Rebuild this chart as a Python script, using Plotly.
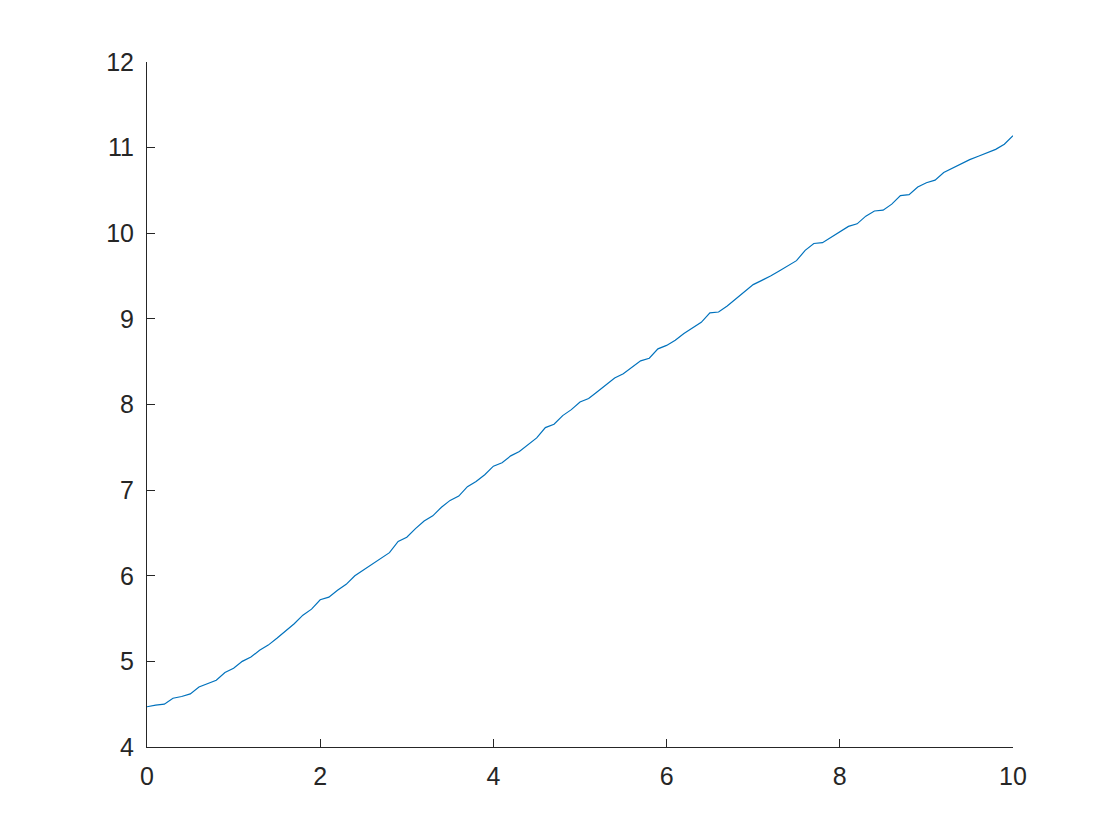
import plotly.graph_objects as go

# samples of the curve at steps of 0.1
x_vals = [i / 10 for i in range(101)]
y_vals = [
    4.47, 4.49, 4.50, 4.57, 4.59, 4.62, 4.70, 4.74, 4.78, 4.87,
    4.92, 5.00, 5.05, 5.13, 5.19, 5.27, 5.35, 5.44, 5.54, 5.61,
    5.72, 5.75, 5.83, 5.90, 6.00, 6.07, 6.14, 6.21, 6.27, 6.40,
    6.45, 6.55, 6.64, 6.70, 6.80, 6.88, 6.93, 7.04, 7.10, 7.18,
    7.28, 7.32, 7.40, 7.45, 7.53, 7.61, 7.73, 7.77, 7.87, 7.94,
    8.03, 8.07, 8.15, 8.23, 8.31, 8.36, 8.44, 8.51, 8.54, 8.65,
    8.69, 8.75, 8.83, 8.90, 8.96, 9.07, 9.08, 9.15, 9.23, 9.31,
    9.40, 9.45, 9.50, 9.56, 9.62, 9.68, 9.80, 9.88, 9.89, 9.95,
    10.01, 10.08, 10.11, 10.20, 10.26, 10.27, 10.34, 10.44, 10.45, 10.54,
    10.59, 10.62, 10.71, 10.76, 10.81, 10.86, 10.90, 10.94, 10.98, 11.04,
    11.14,
]
x_ticks = [0, 2, 4, 6, 8, 10]
y_ticks = [4, 5, 6, 7, 8, 9, 10, 11, 12]

fig = go.Figure(go.Scatter(x=x_vals, y=y_vals, mode="lines",
                           line=dict(color="#0072BD", width=1.2)))

axis_style = dict(showgrid=False, zeroline=False, showline=True,
                  linecolor="#262626", linewidth=1,
                  ticks="inside", ticklen=8, tickcolor="#262626",
                  tickfont=dict(family="Liberation Sans, Arial", size=25, color="#262626"))

fig.update_xaxes(range=[0, 10], tickvals=x_ticks, ticklabelstandoff=7, **axis_style)
fig.update_yaxes(range=[4, 12], tickvals=y_ticks, ticklabelstandoff=7, **axis_style)

# page body adds an 8px offset, so shift margins to keep the axes where they belong
fig.update_layout(width=1120, height=840, plot_bgcolor="white", paper_bgcolor="white",
                  margin=dict(l=139, r=115, t=54, b=101), showlegend=False)

fig.write_html("out.html")
